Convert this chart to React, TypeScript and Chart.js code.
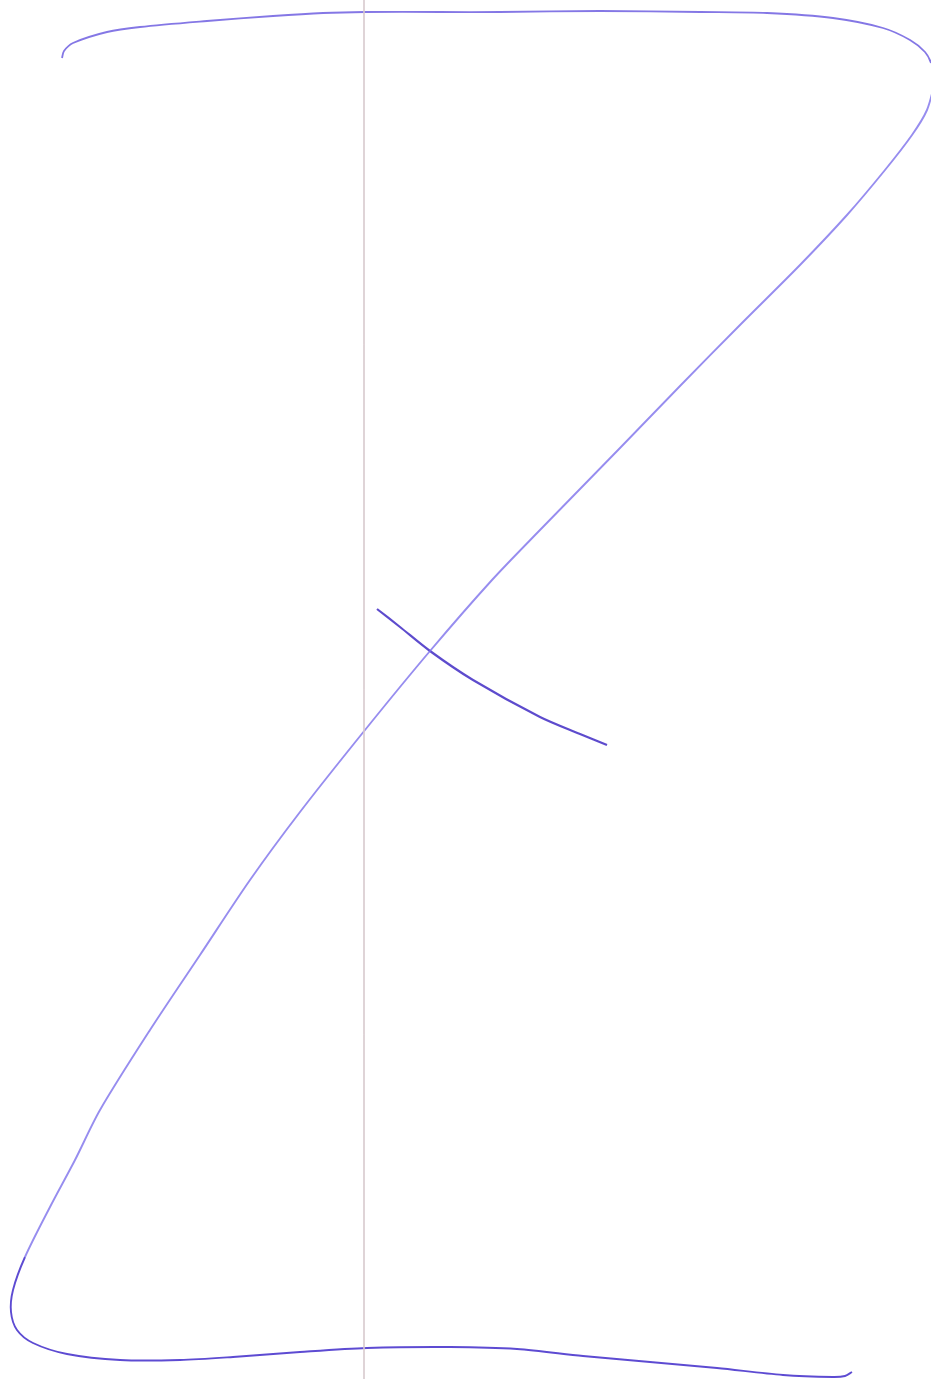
import React, { useEffect, useRef } from "react";
import { Chart, registerables } from "chart.js";

Chart.register(...registerables);

// Stroke samples (x across, y down the page)
const topStrokeX = [62, 64, 73, 107, 140, 207, 273, 323, 365, 440, 500, 600, 700, 767, 833, 883, 910, 925, 931, 935];
const topStrokeY = [58, 51, 43, 32, 27, 21, 16, 13, 12, 12, 12, 11, 12, 13, 18, 28, 40, 52, 63, 82];

const diagonalX = [935, 927, 912, 885, 847, 800, 740, 680, 620, 540, 492, 430, 365, 300, 250, 200, 150, 100, 75, 50, 25];
const diagonalY = [82, 110, 135, 170, 215, 265, 325, 386, 448, 530, 580, 651, 730, 812, 880, 955, 1030, 1110, 1160, 1207, 1257];

const bottomStrokeX = [13, 11, 17, 33, 67, 120, 180, 233, 300, 367, 450, 517, 583, 650, 717, 783, 833, 845, 852];
const bottomStrokeY = [1290, 1312, 1330, 1343, 1354, 1360, 1360, 1357, 1352, 1348, 1347, 1349, 1356, 1362, 1368, 1375, 1377, 1376, 1372];

const crossbarX = [377, 400, 430, 473, 540, 580, 607];
const crossbarY = [609, 627, 651, 680, 717, 734, 745];

const ruleX = [364, 364];
const ruleY = [0, 1379];

const pts = (xs: number[], ys: number[]) => xs.map((x, i) => ({ x, y: ys[i] }));

export default function App() {
  const ref = useRef<HTMLCanvasElement | null>(null);
  useEffect(() => {
    if (!ref.current) return;
    const line = (data: any, color: string, width: number, tension = 0.3) => ({
      data,
      showLine: true,
      borderColor: color,
      backgroundColor: color,
      borderWidth: width,
      pointRadius: 0,
      tension,
      fill: false,
    });
    const lower = pts(diagonalX.concat(bottomStrokeX), diagonalY.concat(bottomStrokeY));
    const split = diagonalX.length - 1;
    const lowerDs: any = line(lower, "rgba(125,112,235,0.8)", 1.9);
    lowerDs.segment = {
      borderColor: (ctx: any) => (ctx.p0DataIndex >= split ? "rgba(75,55,205,0.9)" : "rgba(125,112,235,0.8)"),
    };
    const chart = new Chart(ref.current, {
      type: "scatter",
      data: {
        datasets: [
          line(pts(ruleX, ruleY), "rgba(215,200,205,0.8)", 1, 0),
          line(pts(topStrokeX, topStrokeY), "rgba(110,95,225,0.85)", 1.8),
          lowerDs,
          line(pts(crossbarX, crossbarY), "rgba(75,55,200,0.9)", 2.2),
        ],
      },
      options: {
        animation: false,
        responsive: false,
        layout: { padding: 0 },
        plugins: { legend: { display: false }, tooltip: { enabled: false } },
        scales: {
          x: { type: "linear", min: 0, max: 931, display: false },
          y: { type: "linear", min: 0, max: 1379, reverse: true, display: false },
        },
      },
    });
    return () => chart.destroy();
  }, []);
  return (
    <div style={{ position: "absolute", left: 0, top: 0, width: 931, height: 1379, background: "#fff" }}>
      <canvas ref={ref} width={931} height={1379} style={{ display: "block" }} />
    </div>
  );
}
